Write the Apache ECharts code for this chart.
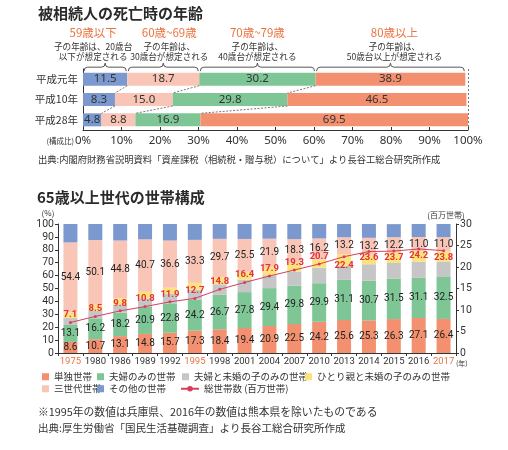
<!DOCTYPE html>
<html><head><meta charset="utf-8">
<script src="https://cdn.jsdelivr.net/npm/echarts@6/dist/echarts.min.js"></script>
<style>html,body{margin:0;padding:0;background:#fff}#c{width:508px;height:450px}</style>
</head><body><div id="c"></div>
<script>
// ---- top chart data ----
const ageRows = ['平成元年', '平成10年', '平成28年'];
const age59 = [11.5, 8.3, 4.8];
const age60s = [18.7, 15.0, 8.8];
const age70s = [30.2, 29.8, 16.9];
const age80 = [38.9, 46.5, 69.5];
const ageGroupNames = ['59歳以下', '60歳~69歳', '70歳~79歳', '80歳以上'];
const ageGroupNotes = ['子の年齢は、20歳台\n以下が想定される', '子の年齢は、\n30歳台が想定される', '子の年齢は、\n40歳台が想定される', '子の年齢は、\n50歳台以上が想定される'];

// ---- bottom chart data ----
const years = ['1975','1980','1986','1989','1992','1995','1998','2001','2004','2007','2010','2013','2014','2015','2016','2017'];
const highlightYears = ['1975','1995','2017'];
const single = [8.6,10.7,13.1,14.8,15.7,17.3,18.4,19.4,20.9,22.5,24.2,25.6,25.3,26.3,27.1,26.4];
const couple = [13.1,16.2,18.2,20.9,22.8,24.2,26.7,27.8,29.4,29.8,29.9,31.1,30.7,31.5,31.1,32.5];
const coupleChild = [5.4,5.9,6.0,6.7,7.3,7.7,8.2,9.7,10.0,10.8,12.0,11.0,12.8,12.0,12.6,12.0];
const singleParent = [4.2,4.6,5.1,5.0,4.8,5.2,5.5,6.0,6.4,6.9,6.5,8.8,7.3,7.8,8.1,7.9];
const threeGen = [54.4,50.1,44.8,40.7,36.6,33.3,29.7,25.5,21.9,18.3,16.2,13.2,13.2,12.2,11.0,11.0];
const other = [14.3,12.5,12.8,11.9,12.8,12.3,11.5,11.6,11.4,11.7,11.2,10.4,10.7,10.1,10.1,10.2];
const totalHH = [7.1,8.5,9.8,10.8,11.9,12.7,14.8,16.4,17.9,19.3,20.7,22.4,23.6,23.7,24.2,23.8];

const C = {blue:'#7b98cf', pink:'#f9c5b7', green:'#7fc697', orange:'#f2906f', gray:'#c6c6c6', yellow:'#fce27a', red:'#d6405a'};
const JP = "'Noto Sans CJK JP','Noto Sans',sans-serif";
const NUM = "'Roboto','Noto Sans',sans-serif";
const topBarW = 13;
const noteShift = [-12, 6, 0, 4];

// derived: cumulative boundaries for connectors & braces
const topSeriesVals = [age59, age60s, age70s, age80];
const cum = ageRows.map((_, r) => { let s = 0; return topSeriesVals.map(a => (s += a[r])); });
const connectorData = [];
for (let r = 0; r < ageRows.length - 1; r++) {
  for (let k = 0; k < 3; k++) connectorData.push([cum[r][k], r, cum[r + 1][k], r + 1]);
}
const braceData = ageGroupNames.map((n, i) => [i === 0 ? 0 : cum[0][i - 1], cum[0][i], i]);

const chart = echarts.init(document.getElementById('c'), null, {renderer: 'canvas'});

const topColors = [C.blue, C.pink, C.green, C.orange];
const topSeries = topSeriesVals.map((vals, i) => {
  const s = {
    type: 'bar', xAxisIndex: 0, yAxisIndex: 0, stack: 'age', barWidth: topBarW,
    data: vals, itemStyle: {color: topColors[i]},
    label: {show: true, position: 'inside', color: '#333', fontSize: 11.5, fontFamily: "'Noto Sans',sans-serif", formatter: p => p.value.toFixed(1)},
    silent: true
  };
  if (i === 3) s.markLine = {symbol: 'none', silent: true, label: {show: false}, lineStyle: {color: '#555', type: [2, 2], width: 0.8}, data: [{xAxis: 100}]};
  return s;
});

const connectorSeries = {
  type: 'custom', xAxisIndex: 0, yAxisIndex: 0, data: connectorData, encode: {x: [0, 2], y: [1, 3]}, silent: true, z: 5,
  renderItem: function (params, api) {
    const a = api.coord([api.value(0), api.value(1)]);
    const b = api.coord([api.value(2), api.value(3)]);
    return {type: 'line', shape: {x1: a[0], y1: a[1] + topBarW / 2, x2: b[0], y2: b[1] - topBarW / 2},
      style: {stroke: '#555', lineWidth: 0.8, lineDash: [2, 1.5]}};
  }
};

const braceSeries = {
  type: 'custom', xAxisIndex: 0, yAxisIndex: 0, data: braceData, encode: {x: [0, 1]}, silent: true, z: 5, clip: false,
  renderItem: function (params, api) {
    const i = api.value(2);
    const s = api.coord([api.value(0), 0]);
    const e = api.coord([api.value(1), 0]);
    const top = s[1] - topBarW / 2;
    const x1 = s[0] + 1, x2 = e[0] - 1, m = (x1 + x2) / 2;
    const y0 = top - 1.5, y1 = top - 5.5, y2 = top - 9.5, r = 3.5;
    const path = `M${x1},${y0} Q${x1},${y1} ${x1 + r},${y1} L${m - r},${y1} Q${m},${y1} ${m},${y2} Q${m},${y1} ${m + r},${y1} L${x2 - r},${y1} Q${x2},${y1} ${x2},${y0}`;
    const tx = m + noteShift[i];
    return {type: 'group', children: [
      {type: 'path', shape: {pathData: path}, style: {fill: 'none', stroke: '#444', lineWidth: 0.9}},
      {type: 'text', x: tx, y: 33, style: {text: ageGroupNames[i], align: 'center', verticalAlign: 'middle', fill: '#ea7440', fontSize: 11.5, fontFamily: JP}},
      {type: 'text', x: tx, y: 51.5, style: {text: ageGroupNotes[i], align: 'center', verticalAlign: 'middle', fill: '#333', fontSize: 8.6, lineHeight: 9.5, fontFamily: JP}}
    ]};
  }
};

function hhBar(name, vals, color, showLabel) {
  return {
    name: name, type: 'bar', xAxisIndex: 1, yAxisIndex: 1, stack: 'hh', barWidth: 14, data: vals,
    itemStyle: {color: color}, silent: true,
    label: {show: showLabel, position: 'inside', color: '#222', fontSize: 10, fontFamily: NUM, formatter: p => p.value.toFixed(1)}
  };
}

const bottomSeries = [
  hhBar('単独世帯', single, C.orange, true),
  hhBar('夫婦のみの世帯', couple, C.green, true),
  hhBar('夫婦と未婚の子のみの世帯', coupleChild, C.gray, false),
  hhBar('ひとり親と未婚の子のみの世帯', singleParent, C.yellow, false),
  hhBar('三世代世帯', threeGen, C.pink, true),
  hhBar('その他の世帯', other, C.blue, false),
  {
    name: '総世帯数 (百万世帯)', type: 'line', xAxisIndex: 1, yAxisIndex: 2, z: 10, silent: true,
    data: totalHH.map((v, i) => ({value: v, label: {position: i >= 11 ? 'bottom' : 'top', distance: i === 11 ? 2 : (i > 11 ? 0 : 1)}})),
    symbol: 'circle', symbolSize: 3, itemStyle: {color: C.red}, lineStyle: {color: C.red, width: 1},
    label: {show: true, color: '#e3303c', fontSize: 9.5, fontWeight: 'bold', fontFamily: NUM, formatter: p => p.value.toFixed(1)}
  }
];

function legendAt(name, left, top, isLine) {
  const l = {
    data: [name], left: left, top: top, padding: 0, itemGap: 0, selectedMode: false,
    itemWidth: isLine ? 18 : 7, itemHeight: 7,
    textStyle: {fontSize: 9.5, color: '#333', fontFamily: JP}
  };
  if (!isLine) l.icon = 'rect';
  return l;
}

const textEl = (text, x, y, size, opts) => ({type: 'text', x: x, y: y, silent: true,
  style: Object.assign({text: text, fontSize: size, fontFamily: JP, fill: '#333', verticalAlign: 'middle'}, opts || {})});

const option = {
  animation: false,
  backgroundColor: '#fff',
  grid: [
    {left: 83, right: 40, top: 69, height: 61},
    {left: 58, right: 52, top: 224, bottom: 97}
  ],
  xAxis: [
    {type: 'value', gridIndex: 0, min: 0, max: 100, interval: 10,
      axisLine: {show: true, lineStyle: {color: '#333', width: 1}},
      axisTick: {show: true, inside: true, length: 3, lineStyle: {color: '#333'}},
      splitLine: {show: false},
      axisLabel: {formatter: '{value}%', fontSize: 11.5, color: '#333', margin: 5, fontFamily: "'Noto Sans',sans-serif"}},
    {type: 'category', gridIndex: 1, data: years, boundaryGap: true,
      axisLine: {show: true, lineStyle: {color: '#333', width: 1}},
      axisTick: {show: true, length: 3, lineStyle: {color: '#333'}},
      axisLabel: {interval: 0, fontSize: 9.5, margin: 4, fontFamily: NUM,
        color: (v) => highlightYears.indexOf(v) >= 0 ? '#ea7440' : '#333'}}
  ],
  yAxis: [
    {type: 'category', gridIndex: 0, data: ageRows, inverse: true,
      axisLine: {show: true, lineStyle: {color: '#333', width: 1}}, axisTick: {show: false},
      axisLabel: {fontSize: 10.5, color: '#333', margin: 5, fontFamily: JP}},
    {type: 'value', gridIndex: 1, min: 0, max: 100, interval: 10, position: 'left',
      axisLine: {show: true, lineStyle: {color: '#333', width: 1}},
      axisTick: {show: true, length: 3, lineStyle: {color: '#333'}}, splitLine: {show: false},
      axisLabel: {fontSize: 10.5, color: '#333', margin: 4, fontFamily: NUM}},
    {type: 'value', gridIndex: 1, min: 0, max: 30, interval: 5, position: 'right',
      axisLine: {show: true, lineStyle: {color: '#333', width: 1}},
      axisTick: {show: true, length: 3, lineStyle: {color: '#333'}}, splitLine: {show: false},
      axisLabel: {fontSize: 10.5, color: '#333', margin: 4, fontFamily: NUM}}
  ],
  legend: [
    legendAt('単独世帯', 42, 372),
    legendAt('夫婦のみの世帯', 97, 372),
    legendAt('夫婦と未婚の子のみの世帯', 182, 372),
    legendAt('ひとり親と未婚の子のみの世帯', 305, 372),
    legendAt('三世代世帯', 42, 384),
    legendAt('その他の世帯', 97, 384),
    legendAt('総世帯数 (百万世帯)', 180, 384, true)
  ],
  graphic: [
    textEl('被相続人の死亡時の年齢', 38, 13, 15, {fontWeight: 'bold', fill: '#2a2a2a'}),
    textEl('(構成比)', 74, 141, 7.5, {align: 'right'}),
    textEl('出典:内閣府財務省説明資料「資産課税（相続税・贈与税）について」より長谷工総合研究所作成', 38, 159, 9.3),
    textEl('65歳以上世代の世帯構成', 37, 197, 15, {fontWeight: 'bold', fill: '#2a2a2a'}),
    textEl('(%)', 48, 213, 8, {align: 'center'}),
    textEl('(百万世帯)', 446, 215, 8, {align: 'center'}),
    textEl('(年)', 456, 363, 7),
    textEl('※1995年の数値は兵庫県、2016年の数値は熊本県を除いたものである', 38, 412, 10.8),
    textEl('出典:厚生労働省「国民生活基礎調査」より長谷工総合研究所作成', 38, 428, 10.5)
  ],
  series: topSeries.concat([connectorSeries, braceSeries], bottomSeries)
};
chart.setOption(option);
</script></body></html>
